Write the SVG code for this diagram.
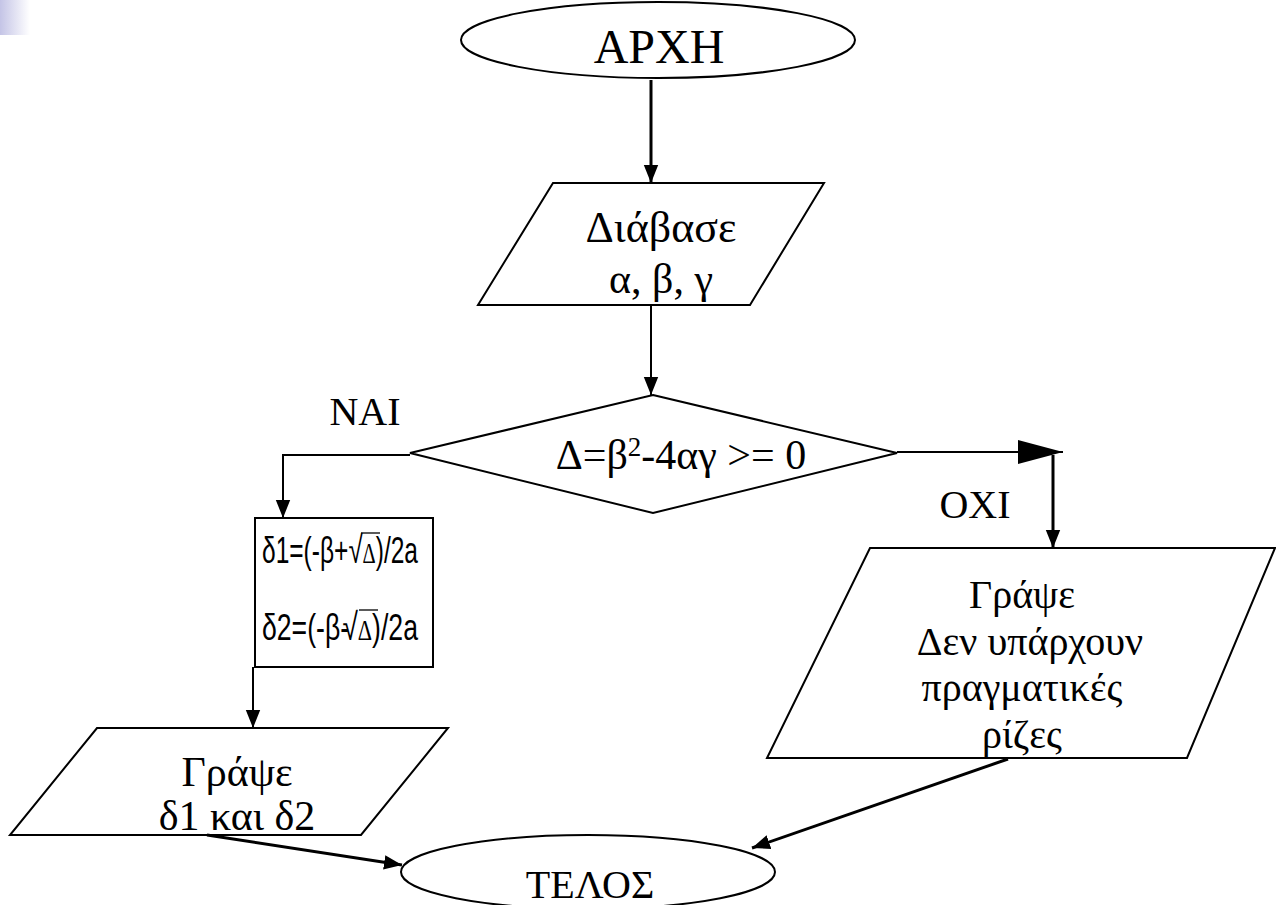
<svg xmlns="http://www.w3.org/2000/svg" width="1276" height="905" viewBox="0 0 1276 905">
<defs>
<linearGradient id="corner" x1="0" y1="0" x2="1" y2="0">
<stop offset="0" stop-color="#c4c4e6"/>
<stop offset="1" stop-color="#ffffff"/>
</linearGradient>
<marker id="arr" viewBox="0 0 20 16" refX="20" refY="8" markerWidth="18" markerHeight="16" markerUnits="userSpaceOnUse" orient="auto">
<path d="M0,0 L20,8 L0,16 z" fill="#000"/>
</marker>
<marker id="big" viewBox="0 0 45 24" refX="45" refY="12" markerWidth="45" markerHeight="24" markerUnits="userSpaceOnUse" orient="auto">
<path d="M0,0 L45,12 L0,24 z" fill="#000"/>
</marker>
</defs>
<style>
.shape{fill:#fff;stroke:#000;stroke-width:2}
.t{font-family:"Liberation Serif","Times New Roman",serif;font-size:40px;fill:#000;text-anchor:middle}
.t42{font-size:42px}
.t44{font-size:44px}
.t48{font-size:48px}
.s{font-family:"Liberation Sans",Arial,sans-serif;font-size:36px;fill:#000}
.c{fill:none;stroke:#000;stroke-width:2}
.thick{stroke-width:3}
</style>
<rect width="1276" height="905" fill="#fff"/>
<rect x="0" y="0" width="30" height="35" fill="url(#corner)"/>

<g id="start">
<ellipse class="shape" cx="658" cy="40" rx="197" ry="38"/>
<text class="t t48" x="659" y="63">ΑΡΧΗ</text>
</g>

<g id="read">
<polygon class="shape" points="553,183 824,183 750,305 478,305"/>
<text class="t t44" x="661" y="242">Διάβασε</text>
<text class="t t42" x="661" y="293">α, β, γ</text>
</g>

<g id="decision">
<polygon class="shape" points="653,395 897,453 653,513 410,453"/>
<text class="t t42" x="681" y="469">Δ=β<tspan font-size="27" dy="-13">2</tspan><tspan dy="13">-4αγ &gt;= 0</tspan></text>
</g>

<g id="compute">
<rect class="shape" x="255" y="518" width="178" height="149"/>
<text class="s" x="262" y="563" textLength="156" lengthAdjust="spacingAndGlyphs">δ1=(-β+<tspan font-size="38">√</tspan><tspan font-family="Liberation Serif, serif" font-size="30">Δ</tspan>)/2a</text>
<line x1="361" y1="533" x2="380" y2="533" stroke="#000" stroke-width="1.3"/>
<text class="s" x="262" y="640" textLength="156" lengthAdjust="spacingAndGlyphs">δ2=(-β-<tspan font-size="38" dx="-9">√</tspan><tspan font-family="Liberation Serif, serif" font-size="30">Δ</tspan>)/2a</text>
<line x1="359" y1="610" x2="378" y2="610" stroke="#000" stroke-width="1.3"/>
</g>

<g id="write-roots">
<polygon class="shape" points="97,728 448,728 361,835 10,835"/>
<text class="t t42" x="237" y="786">Γράψε</text>
<text class="t t42" x="237" y="830">δ1 και δ2</text>
</g>

<g id="write-none">
<polygon class="shape" points="870,548 1275,548 1187,758 767,758"/>
<text class="t" x="1022" y="608">Γράψε</text>
<text class="t" x="1030" y="655">Δεν υπάρχουν</text>
<text class="t" x="1022" y="701">πραγματικές</text>
<text class="t" x="1022" y="748">ρίζες</text>
</g>

<g id="end">
<ellipse class="shape" cx="588" cy="872" rx="187" ry="37"/>
<text class="t" x="590" y="898">ΤΕΛΟΣ</text>
</g>

<g id="labels">
<text class="t" x="365" y="425">NAI</text>
<text class="t" x="975" y="518">OXI</text>
</g>

<g id="connectors">
<line class="c thick" x1="651" y1="80" x2="651" y2="183" marker-end="url(#arr)"/>
<line class="c" x1="651" y1="305" x2="651" y2="395" marker-end="url(#arr)"/>
<polyline class="c" points="410,455 283,455 283,518" marker-end="url(#arr)"/>
<line class="c" x1="897" y1="452" x2="1063" y2="452" marker-end="url(#big)"/>
<line class="c thick" x1="1053" y1="455" x2="1053" y2="548" marker-end="url(#arr)"/>
<line class="c" x1="253" y1="667" x2="253" y2="728" marker-end="url(#arr)"/>
<line class="c thick" x1="207" y1="835" x2="402" y2="865" marker-end="url(#arr)"/>
<line class="c thick" x1="1008" y1="759" x2="752" y2="848" marker-end="url(#arr)"/>
</g>
</svg>
